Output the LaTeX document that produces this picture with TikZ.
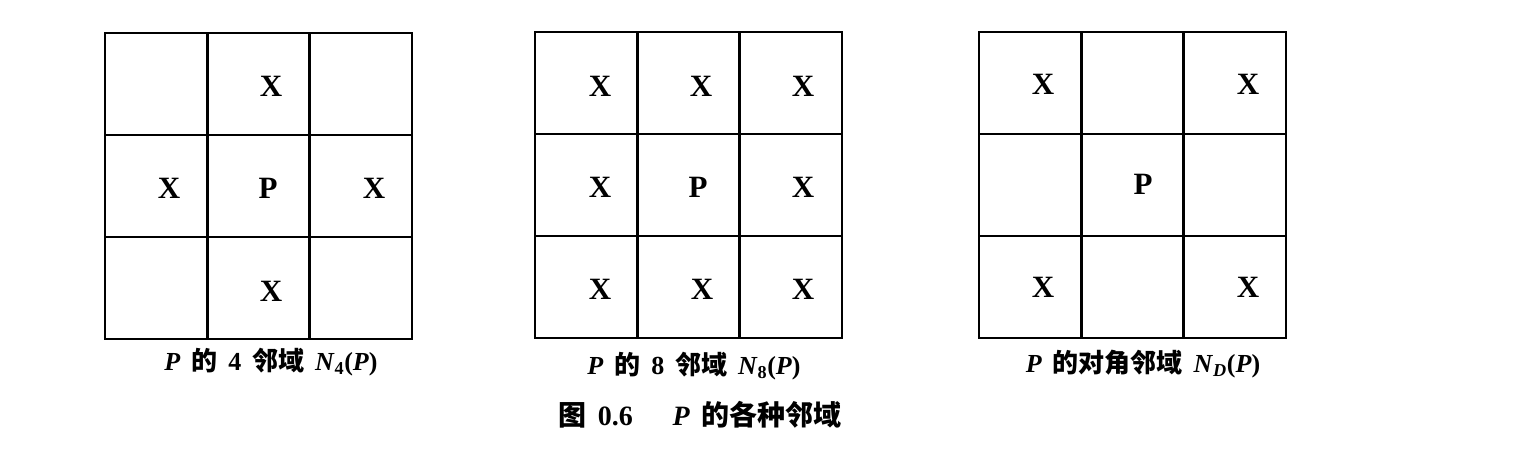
\documentclass[tikz,border=0pt]{standalone}
\usepackage{fontspec}
\setmainfont{Liberation Serif}
\newfontfamily\cjk{Noto Sans CJK SC}
\usepackage{tikz}
\newcommand{\capgap}{\hspace{0.42em}}

\begin{document}
\begin{tikzpicture}[x=1pt,y=-1pt,
		gridline/.style={line width=2.9pt},
		cellmark/.style={inner sep=0pt,font=\fontsize{31}{31}\selectfont\bfseries},
		subcap/.style={inner sep=0pt,font=\fontsize{26}{26}\selectfont\bfseries},
		figcap/.style={inner sep=0pt,font=\fontsize{28}{28}\selectfont\bfseries}]
		\useasboundingbox (0,0) rectangle (1522,458);
		% the three grids
		\foreach \gx/\gy in {105/33, 535/32, 979/32}{
			\draw[gridline] (\gx,\gy) rectangle ++(307,306);
			\draw[gridline] (\gx+102.3,\gy) -- ++(0,306);
			\draw[gridline] (\gx+204.7,\gy) -- ++(0,306);
			\draw[gridline] (\gx,\gy+102) -- ++(307,0);
			\draw[gridline] (\gx,\gy+204) -- ++(307,0);
		}
		% 4-neighbourhood
		\foreach \px/\py/\n in {271/86/a12, 169/188/a21, 374/188/a23, 271/291/a32}
			\node[cellmark] (\n) at (\px,\py) {X};
		\node[cellmark] (a22) at (268,188) {P};
		% 8-neighbourhood
		\foreach \px/\py/\n in {600/86/b11, 701/86/b12, 803/86/b13, 600/187/b21, 803/187/b23,
				600/289/b31, 702/289/b32, 803/289/b33}
			\node[cellmark] (\n) at (\px,\py) {X};
		\node[cellmark] (b22) at (698,187) {P};
		% diagonal neighbourhood
		\foreach \px/\py/\n in {1043/84/c11, 1248/84/c13, 1043/287/c31, 1248/287/c33}
			\node[cellmark] (\n) at (\px,\py) {X};
		\node[cellmark] (c22) at (1143,184) {P};
		% captions
		\node[subcap] (capa) at (271,362) {\textit{P}\capgap{\cjk 的}\capgap 4\capgap{\cjk 邻域}\capgap\textit{N}\textsubscript{4}(\textit{P})};
		\node[subcap] (capb) at (694,366) {\textit{P}\capgap{\cjk 的}\capgap 8\capgap{\cjk 邻域}\capgap\textit{N}\textsubscript{8}(\textit{P})};
		\node[subcap] (capc) at (1143,364) {\textit{P}\capgap{\cjk 的对角邻域}\capgap\textit{N}\textsubscript{\textit{D}}(\textit{P})};
		\node[figcap] (fig) at (700,415) {{\cjk 图}\capgap 0.6\quad\capgap\textit{P}\capgap{\cjk 的各种邻域}};
	\end{tikzpicture}
\end{document}
